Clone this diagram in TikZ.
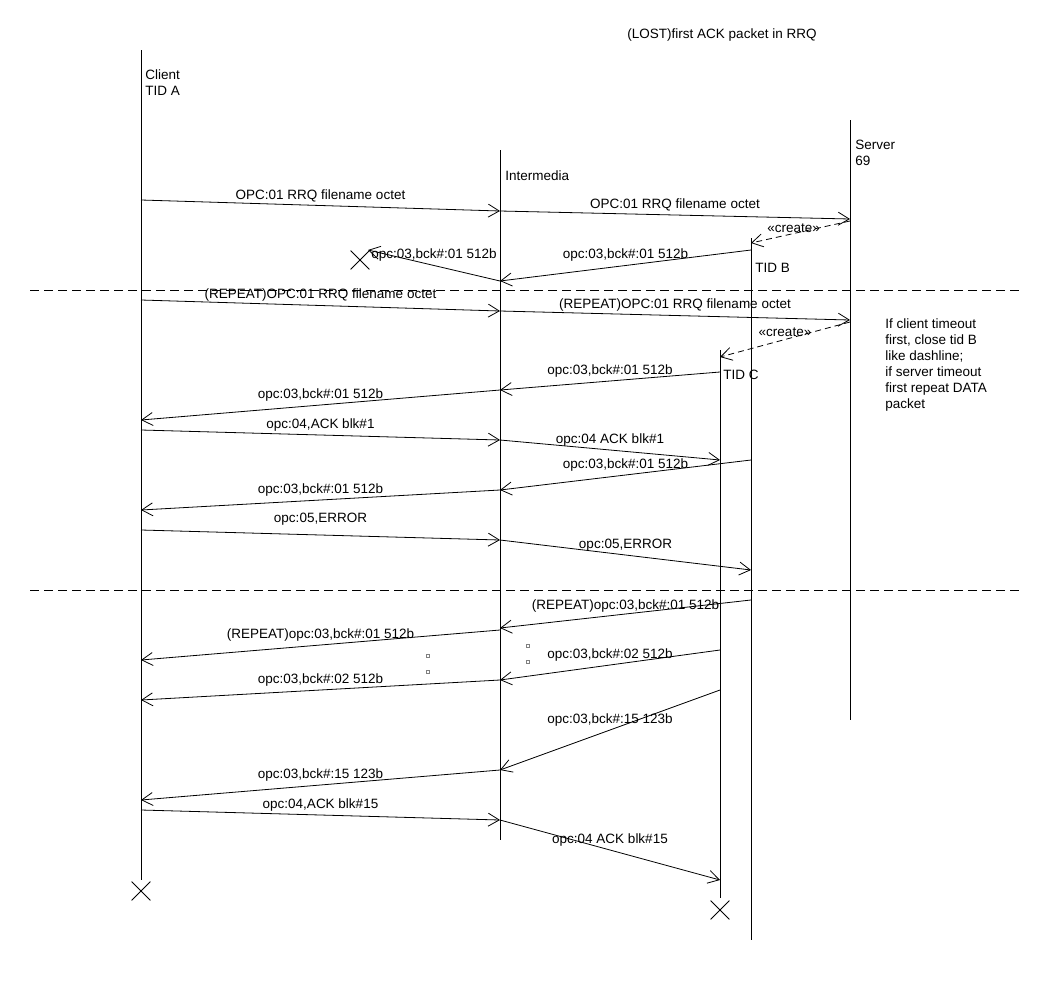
\documentclass[tikz,border=0pt]{standalone}
\usepackage{fontspec}
\setmainfont{Liberation Sans}
\usetikzlibrary{arrows.meta,shapes.misc,positioning}

\begin{document}
\begin{tikzpicture}[x=1pt,y=-1pt,line width=0.8pt,
    font=\fontsize{13.5}{16}\selectfont,
    msg/.style={-{Straight Barb[length=11pt,width=13pt]}},
    create/.style={msg,dash pattern=on 6pt off 4pt},
    lbl/.style={above=1.5pt,inner sep=2pt},
    txt/.style={anchor=north west,inner sep=0pt,align=left},
    gone/.style={draw,cross out,minimum size=18pt,inner sep=0pt},
    dot/.style={draw=gray,line width=0.5pt,minimum size=3pt,inner sep=0pt},
    sep/.style={dash pattern=on 9pt off 5pt}]
  \useasboundingbox (0,0) rectangle (1060,980);

  % lifelines
  \coordinate (cli)   at (141,50);
  \coordinate (inter) at (500,150);
  \coordinate (srv)   at (850,120);
  \coordinate (tidb)  at (751,238);
  \coordinate (tidc)  at (720,350);
  \coordinate (lost)  at (368,250);
  \draw (cli) -- (cli |- 0,880);
  \draw (inter) -- (inter |- 0,840);
  \draw (srv) -- (srv |- 0,720);
  \draw (tidb) -- (tidb |- 0,940);
  \draw (tidc) -- (tidc |- 0,898);

  \node[txt] (clilbl)   at (145,69)  {Client\\TID A};
  \node[txt] (interlbl) at (505,170) {Intermedia};
  \node[txt] (srvlbl)   at (855,140) {Server\\69};
  \node[txt] (tidblbl)  at (755,263) {TID B};
  \node[txt] (tidclbl)  at (723,370) {TID C};
  \node[anchor=base] (title) at (722,38) {(LOST)first ACK packet in RRQ};
  \node[txt] (note) at (885,318) {If client timeout\\first, close tid B\\like dashline;\\if server timeout\\first repeat DATA\\packet};

  \node[gone] (cliend)  at (141,891) {};
  \node[gone] (tidcend) at (720,910) {};
  \node[gone] (lostend) at (360,260) {};

  \draw[sep] (30,290) -- (1020,290);
  \draw[sep] (30,590) -- (1020,590);

  % first RRQ, DATA lost
  \draw[msg] (cli |- 0,200) -- node[lbl] (m1) {OPC:01 RRQ filename octet} (inter |- 0,211);
  \draw[msg] (inter |- 0,211) -- node[lbl] (m2) {OPC:01 RRQ filename octet} (srv |- 0,219);
  \draw[create] (srv |- 0,221) -- node[lbl,above=-1pt,pos=.57] (m3) {«create»} (tidb |- 0,243);
  \draw[msg] (tidb |- 0,250) -- node[lbl] (m4) {opc:03,bck\#:01 512b} (inter |- 0,281);
  \draw[msg] (inter |- 0,281) -- node[lbl] (m5) {opc:03,bck\#:01 512b} (lost);

  % repeated RRQ
  \draw[msg] (cli |- 0,300) -- node[lbl] (m6) {(REPEAT)OPC:01 RRQ filename octet} (inter |- 0,311);
  \draw[msg] (inter |- 0,311) -- node[lbl] (m7) {(REPEAT)OPC:01 RRQ filename octet} (srv |- 0,320);
  \draw[create] (srv |- 0,322) -- node[lbl,above=0pt,pos=.5] (m8) {«create»} (tidc |- 0,357);
  \draw[msg] (tidc |- 0,372) -- node[lbl] (m9) {opc:03,bck\#:01 512b} (inter |- 0,390);
  \draw[msg] (inter |- 0,390) -- node[lbl] (m10) {opc:03,bck\#:01 512b} (cli |- 0,420);
  \draw[msg] (cli |- 0,430) -- node[lbl] (m11) {opc:04,ACK blk\#1} (inter |- 0,440);
  \draw[msg] (inter |- 0,440) -- node[lbl] (m12) {opc:04 ACK blk\#1} (tidc |- 0,460);
  \draw[msg] (tidb |- 0,460) -- node[lbl] (m13) {opc:03,bck\#:01 512b} (inter |- 0,490);
  \draw[msg] (inter |- 0,490) -- node[lbl] (m14) {opc:03,bck\#:01 512b} (cli |- 0,510);
  \draw[msg] (cli |- 0,530) -- node[lbl,above=7pt] (m15) {opc:05,ERROR} (inter |- 0,540);
  \draw[msg] (inter |- 0,540) -- node[lbl] (m16) {opc:05,ERROR} (tidb |- 0,570);

  % after the error
  \draw[msg] (tidb |- 0,600) -- node[lbl,above=-0.5pt] (m17) {(REPEAT)opc:03,bck\#:01 512b} (inter |- 0,628);
  \draw[msg] (inter |- 0,630) -- node[lbl] (m18) {(REPEAT)opc:03,bck\#:01 512b} (cli |- 0,660);
  \draw[msg] (tidc |- 0,650) -- node[lbl] (m19) {opc:03,bck\#:02 512b} (inter |- 0,680);
  \draw[msg] (inter |- 0,680) -- node[lbl] (m20) {opc:03,bck\#:02 512b} (cli |- 0,700);
  \draw[msg] (tidc |- 0,690) -- node[lbl] (m21) {opc:03,bck\#:15 123b} (inter |- 0,770);
  \draw[msg] (inter |- 0,770) -- node[lbl] (m22) {opc:03,bck\#:15 123b} (cli |- 0,800);
  \draw[msg] (cli |- 0,810) -- node[lbl] (m23) {opc:04,ACK blk\#15} (inter |- 0,820);
  \draw[msg] (inter |- 0,820) -- node[lbl] (m24) {opc:04 ACK blk\#15} (tidc |- 0,880);

  \foreach \px/\py [count=\i] in {428/656, 428/672, 528/646, 528/662}
    \node[dot] (dot\i) at (\px,\py) {};
\end{tikzpicture}
\end{document}
